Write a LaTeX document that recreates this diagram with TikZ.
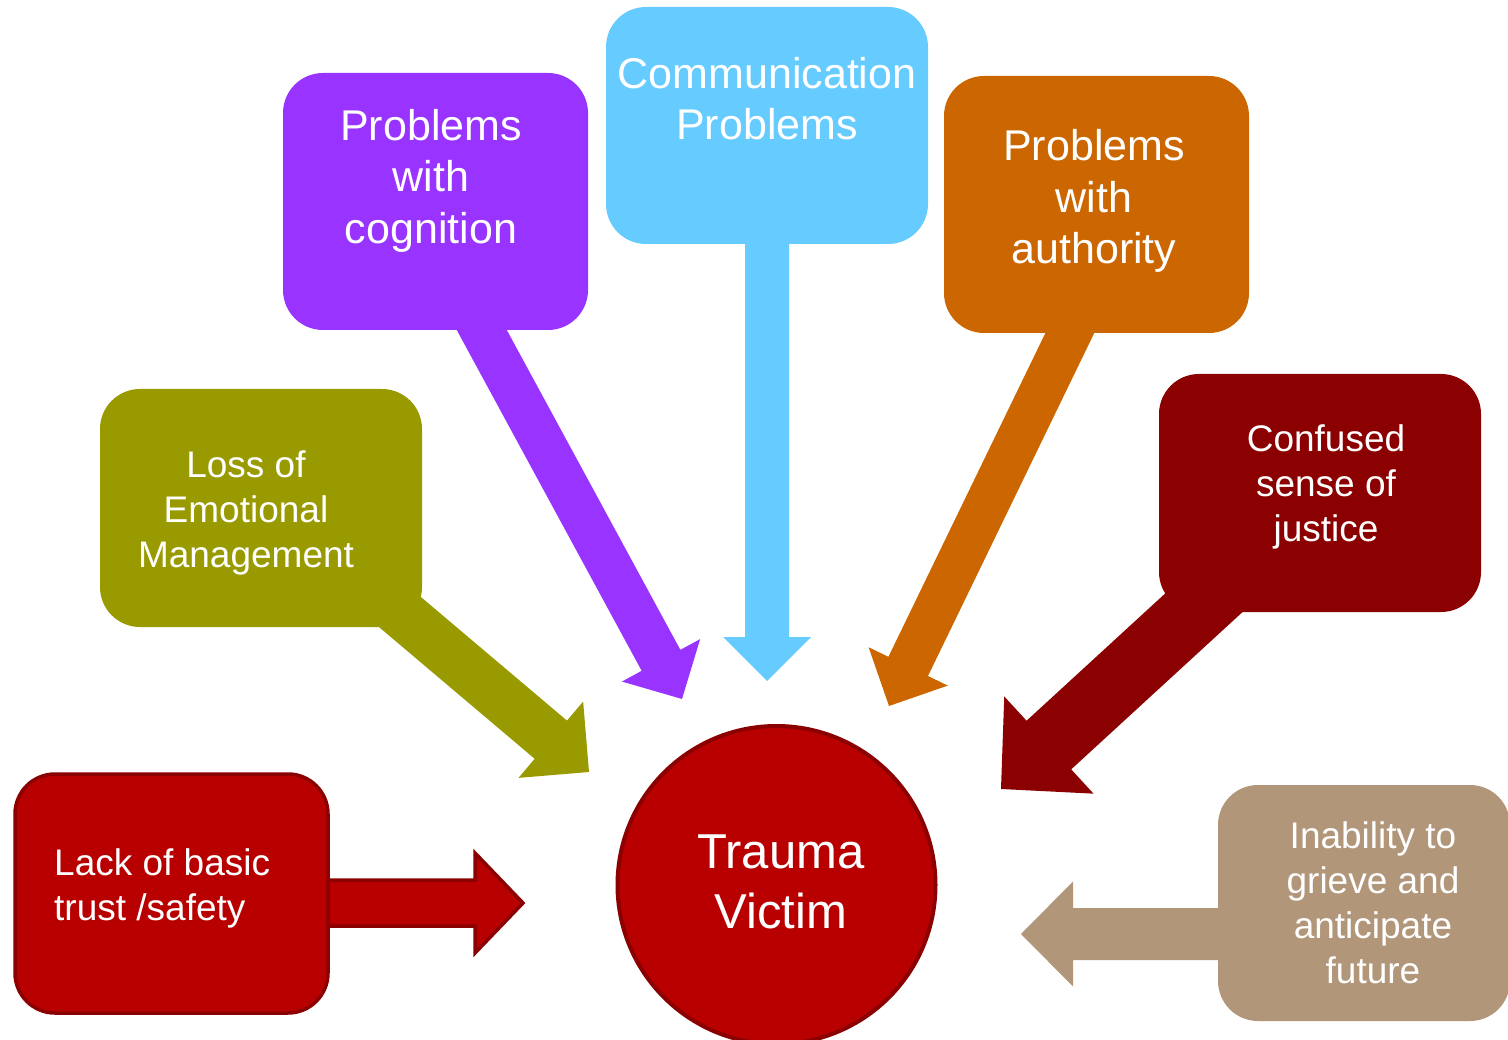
\documentclass[tikz,border=0pt]{standalone}
\usepackage{fontspec}
\setmainfont{Liberation Sans}
\usetikzlibrary{calc}

\definecolor{trustred}{HTML}{B80000}
\definecolor{trustedge}{HTML}{8B0000}
\definecolor{olive}{HTML}{999900}
\definecolor{violet}{HTML}{9933FF}
\definecolor{skyblue}{HTML}{66CCFF}
\definecolor{rust}{HTML}{CC6600}
\definecolor{maroon}{HTML}{8B0000}
\definecolor{tan}{HTML}{B1967A}

% block arrow: #1 style, #2 start, #3 tip, #4 half shaft width, #5 half head width, #6 head length
\newcommand\blockarrow[6]{%
  \coordinate (ba-h) at ($(#3)!#6!(#2)$);
  \path[#1] ($(#2)!#4!90:(#3)$) -- ($(ba-h)!#4!90:(#3)$) -- ($(ba-h)!#5!90:(#3)$)
    -- (#3) -- ($(ba-h)!#5!-90:(#3)$) -- ($(ba-h)!#4!-90:(#3)$)
    -- ($(#2)!#4!-90:(#3)$) -- cycle;
}

\tikzset{
  box/.style={rectangle, rounded corners=40pt, inner sep=0pt},
  lbl/.style={text=white, align=center, inner sep=0pt},
  big/.style={font=\fontsize{43}{51.5}\selectfont},
  mid/.style={font=\fontsize{37}{45}\selectfont},
}

\begin{document}
\begin{tikzpicture}[x=1pt,y=-1pt]
\useasboundingbox (0,0) rectangle (1508,1040);

% arrow anchors
\coordinate (s-trust) at (300,903);   \coordinate (t-trust) at (523,903);
\coordinate (s-emo)   at (355,574);   \coordinate (t-emo)   at (589,772);
\coordinate (s-cog)   at (453,277);   \coordinate (t-cog)   at (682,699);
\coordinate (s-comm)  at (767,200);   \coordinate (t-comm)  at (767,681);
\coordinate (s-auth)  at (1096,279);  \coordinate (t-auth)  at (889,706);
\coordinate (s-just)  at (1245,565);  \coordinate (t-just)  at (1001,789);
\coordinate (s-grief) at (1260,934);  \coordinate (t-grief) at (1021,934);

% arrows
\blockarrow{fill=trustred, draw=trustedge, line width=3.5pt, line join=miter}{s-trust}{t-trust}{23pt}{50pt}{48pt}
\blockarrow{fill=olive}{s-emo}{t-emo}{25pt}{50pt}{50pt}
\blockarrow{fill=violet}{s-cog}{t-cog}{22pt}{44.5pt}{44pt}
\blockarrow{fill=skyblue}{s-comm}{t-comm}{22pt}{44pt}{44pt}
\blockarrow{fill=rust}{s-auth}{t-auth}{22pt}{44pt}{44pt}
\blockarrow{fill=maroon}{s-just}{t-just}{33pt}{66pt}{65pt}
\blockarrow{fill=tan}{s-grief}{t-grief}{26pt}{52.5pt}{52pt}

% boxes
\node[box, fill=trustred, draw=trustedge, line width=3.5pt, minimum width=313pt, minimum height=239pt] (trust) at (171.5,893.5) {};
\node[box, fill=olive,   minimum width=322pt, minimum height=238pt] (emo)   at (261,508) {};
\node[box, fill=violet,  minimum width=305pt, minimum height=257pt] (cog)   at (435.5,201.5) {};
\node[box, fill=skyblue, minimum width=322pt, minimum height=237pt] (comm)  at (767,125.5) {};
\node[box, fill=rust,    minimum width=305pt, minimum height=257pt] (auth)  at (1096.5,204.5) {};
\node[box, fill=maroon,  minimum width=322pt, minimum height=238pt] (just)  at (1320,493) {};
\node[box, fill=tan,     minimum width=292pt, minimum height=236pt] (grief) at (1364,903) {};

% centre
\node[circle, fill=trustred, draw=trustedge, line width=4pt, minimum size=318pt, inner sep=0pt] (victim) at (776.5,885) {};
\node[lbl, font=\fontsize{49}{60}\selectfont] (victim-t) at (781,882) {Trauma\\Victim};

% labels
\node[lbl, mid, align=left, anchor=west] (trust-t) at (54,888.5) {Lack of basic\\trust /safety};
\node[lbl, mid] (emo-t)   at (246,513) {Loss of\\Emotional\\Management};
\node[lbl, big] (cog-t)   at (431,180.5) {Problems\\with\\cognition};
\node[lbl, big] (comm-t)  at (767,98.5) {Communication\\Problems};
\node[lbl, big] (auth-t)  at (1094,201) {Problems\\with\\authority};
\node[lbl, mid] (just-t)  at (1326,487) {Confused\\sense of\\justice};
\node[lbl, mid] (grief-t) at (1373,902.5) {Inability to\\grieve and\\anticipate\\future};
\end{tikzpicture}
\end{document}
